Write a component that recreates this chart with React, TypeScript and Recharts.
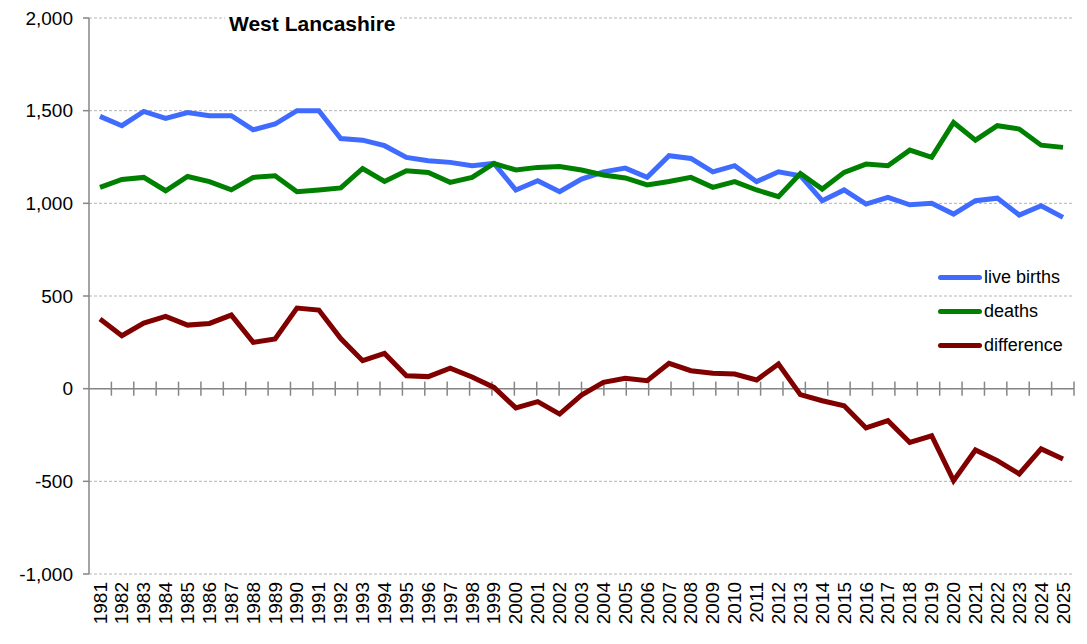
import { LineChart, Line, XAxis, YAxis, CartesianGrid, ReferenceLine } from 'recharts';

// ── Data ──────────────────────────────────────────────────────────────────────

const years = [
  '1981', '1982', '1983', '1984', '1985', '1986', '1987', '1988', '1989', '1990',
  '1991', '1992', '1993', '1994', '1995', '1996', '1997', '1998', '1999', '2000',
  '2001', '2002', '2003', '2004', '2005', '2006', '2007', '2008', '2009', '2010',
  '2011', '2012', '2013', '2014', '2015', '2016', '2017', '2018', '2019', '2020',
  '2021', '2022', '2023', '2024', '2025',
];

const liveBirths = [
  1469, 1419, 1496, 1458, 1490, 1473, 1473, 1397, 1428, 1500,
  1500, 1350, 1341, 1311, 1248, 1230, 1221, 1203, 1215, 1072,
  1122, 1063, 1131, 1170, 1190, 1140, 1257, 1242, 1170, 1203,
  1117, 1170, 1149, 1014, 1072, 996, 1032, 992, 1000, 942,
  1014, 1028, 937, 987, 924,
];

const deaths = [
  1086, 1129, 1140, 1068, 1145, 1117, 1073, 1140, 1149, 1063,
  1072, 1083, 1188, 1118, 1176, 1167, 1113, 1140, 1215, 1180,
  1194, 1199, 1180, 1153, 1137, 1099, 1118, 1140, 1086, 1117,
  1072, 1036, 1161, 1077, 1167, 1212, 1203, 1287, 1248, 1436,
  1341, 1419, 1401, 1314, 1302,
];

const difference = [
  376, 286, 354, 390, 343, 352, 397, 250, 268, 435,
  424, 270, 151, 190, 70, 65, 110, 63, 7, -104,
  -70, -137, -35, 34, 56, 43, 137, 97, 83, 79,
  47, 133, -32, -65, -92, -212, -173, -290, -254, -496,
  -331, -388, -460, -325, -379,
];

const yTicks = [-1000, -500, 0, 500, 1000, 1500, 2000];

const series = [
  { key: 'births', name: 'live births', color: '#3f6cff' },
  { key: 'deaths', name: 'deaths', color: '#008000' },
  { key: 'diff', name: 'difference', color: '#800000' },
];

const data = years.map((year, i) => ({
  year,
  births: liveBirths[i],
  deaths: deaths[i],
  diff: difference[i],
}));

// category boundaries on the hidden numeric axis (tick marks on the zero line)
const boundaries = years.map((_, i) => i + 1);

const FONT = '"Liberation Sans", Arial, sans-serif';
const AXIS_GREY = '#868686';

// ── Helpers ───────────────────────────────────────────────────────────────────

function fmtThousands(v: number): string {
  return v.toLocaleString('en-US');
}

function YearTick({ x, y, payload }: any) {
  return (
    <text
      x={x}
      y={y}
      transform={`rotate(-90, ${x}, ${y})`}
      textAnchor="end"
      dominantBaseline="central"
      fontFamily={FONT}
      fontSize={19}
      fill="#000"
    >
      {payload.value}
    </text>
  );
}

function LegendBox() {
  return (
    <div
      style={{
        position: 'absolute',
        left: 938,
        top: 260,
        fontFamily: FONT,
        fontSize: 18,
        color: '#000',
      }}
    >
      {series.map((s) => (
        <div key={s.key} style={{ display: 'flex', alignItems: 'center', height: 34 }}>
          <span
            style={{
              display: 'inline-block',
              width: 44,
              height: 5,
              borderRadius: 3,
              background: s.color,
              marginRight: 2,
            }}
          />
          <span>{s.name}</span>
        </div>
      ))}
    </div>
  );
}

// ── Component ─────────────────────────────────────────────────────────────────

export default function App() {
  return (
    <div style={{ position: 'absolute', left: 0, top: 0, width: 1087, height: 644, background: '#fff' }}>
      <LineChart
        width={1087}
        height={644}
        data={data}
        margin={{ top: 18, right: 13, left: 0, bottom: 0 }}
      >
        <CartesianGrid horizontal vertical={false} stroke="#b4b4b4" strokeDasharray="3 2" />

        <XAxis
          dataKey="year"
          interval={0}
          padding={{ left: 11, right: 11 }}
          axisLine={false}
          tickLine={false}
          height={70}
          tick={<YearTick />}
        />
        <XAxis xAxisId="n" type="number" domain={[0, 45]} allowDataOverflow hide />

        <YAxis
          domain={[-1000, 2000]}
          ticks={yTicks}
          interval={0}
          width={89}
          tickFormatter={fmtThousands}
          axisLine={{ stroke: AXIS_GREY, strokeWidth: 1.5 }}
          tickLine={{ stroke: AXIS_GREY, strokeWidth: 1.5 }}
          tickSize={6}
          tickMargin={10}
          tick={{ fill: '#000', fontSize: 19, fontFamily: FONT }}
        />

        {/* horizontal axis drawn at zero */}
        <ReferenceLine y={0} stroke={AXIS_GREY} strokeWidth={1.5} />
        {boundaries.map((b) => (
          <ReferenceLine
            key={b}
            xAxisId="n"
            segment={[{ x: b, y: -38 }, { x: b, y: 38 }]}
            stroke={AXIS_GREY}
            strokeWidth={1.5}
          />
        ))}

        {series.map((s) => (
          <Line
            key={s.key}
            type="linear"
            dataKey={s.key}
            name={s.name}
            stroke={s.color}
            strokeWidth={5}
            dot={false}
            activeDot={false}
            isAnimationActive={false}
          />
        ))}
      </LineChart>

      <LegendBox />

      <div
        style={{
          position: 'absolute',
          left: 225,
          top: 11,
          padding: '0 4px',
          background: '#fff',
          fontFamily: FONT,
          fontWeight: 'bold',
          fontSize: 21,
          lineHeight: '26px',
          color: '#000',
        }}
      >
        West Lancashire
      </div>
    </div>
  );
}
